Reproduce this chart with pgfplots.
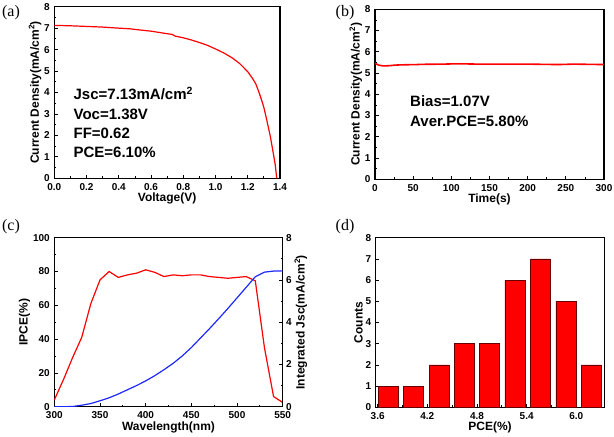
\documentclass[border=0pt]{standalone}
\usepackage{pgfplots}
\pgfplotsset{compat=1.18}
\usepackage{fontspec}
\setmainfont{Liberation Sans}
\newfontfamily\serifpanel{Liberation Serif}
\definecolor{myred}{RGB}{255,0,0}
\definecolor{myblue}{RGB}{30,40,255}
\pgfplotsset{
  myaxis/.style={
    scale only axis,
    anchor=south west,
    axis line style={line width=1.1pt},
    tick align=inside,
    tick pos=left,
    major tick length=3.5pt,
    minor tick length=2pt,
    every tick/.style={black, line width=0.8pt},
    /pgf/number format/assume math mode=true,
    xticklabel={\bfseries\fontsize{10}{11}\selectfont\pgfmathprintnumber{\tick}},
    yticklabel={\bfseries\fontsize{10}{11}\selectfont\pgfmathprintnumber{\tick}},
    xticklabel style={yshift=-1.5pt},
    yticklabel style={xshift=-1pt},
    label style={font=\bfseries\fontsize{12}{14}\selectfont},
    ylabel shift=-4pt,
    xlabel shift=-4pt,
  }
}
\begin{document}
\begin{tikzpicture}[x=1pt,y=1pt]
\path[use as bounding box] (0,0) rectangle (614,437);

% (a)
\begin{axis}[myaxis, at={(54.3pt,258.7pt)}, width=225.7pt, height=171.6pt,
  xmin=0, xmax=1.4, ymin=0, ymax=8,
  xtick={0,0.2,...,1.4}, minor x tick num=1,
  ytick={0,1,...,8}, minor y tick num=1,
  xticklabel style={/pgf/number format/.cd, fixed, fixed zerofill, precision=1},
  xlabel={Voltage(V)}, ylabel={Current Density(mA/cm\textsuperscript{2})}]
\addplot[myred, line width=1.2pt] coordinates {
(0,7.13)(0.05,7.12)(0.1,7.11)(0.2,7.08)(0.3,7.05)(0.4,7.0)(0.47,6.97)(0.5,6.94)(0.6,6.86)(0.65,6.8)(0.7,6.74)(0.73,6.71)(0.75,6.63)(0.8,6.55)(0.85,6.45)(0.9,6.33)(0.95,6.2)(1.0,6.03)(1.05,5.85)(1.1,5.63)(1.15,5.35)(1.2,4.97)(1.23,4.65)(1.25,4.4)(1.27,4.0)(1.29,3.55)(1.3,3.3)(1.32,2.65)(1.34,1.95)(1.36,1.1)(1.37,0.65)(1.38,0)};
\node[anchor=west, font=\bfseries\fontsize{15}{16}\selectfont] at (axis cs:0.098,3.97) {Jsc=7.13mA/cm\textsuperscript{2}};
\node[anchor=west, font=\bfseries\fontsize{15}{16}\selectfont] at (axis cs:0.098,2.98) {Voc=1.38V};
\node[anchor=west, font=\bfseries\fontsize{15}{16}\selectfont] at (axis cs:0.098,2.1) {FF=0.62};
\node[anchor=west, font=\bfseries\fontsize{15}{16}\selectfont] at (axis cs:0.098,1.22) {PCE=6.10\%};
\end{axis}

% (b)
\begin{axis}[myaxis, at={(375pt,257.7pt)}, width=229pt, height=170pt,
  xmin=0, xmax=300, ymin=0, ymax=8,
  xtick={0,50,...,300}, minor x tick num=1,
  ytick={0,1,...,8}, minor y tick num=1,
  xlabel={Time(s)}, ylabel={Current Density(mA/cm\textsuperscript{2})}]
\addplot[myred, line width=1.6pt] coordinates {
(0,5.46)(2,5.42)(5,5.37)(10,5.34)(15,5.34)(20,5.35)(25,5.37)(30,5.38)(40,5.39)(55,5.40)(60,5.41)(90,5.42)(100,5.43)(120,5.43)(135,5.42)(150,5.42)(180,5.42)(200,5.42)(220,5.41)(240,5.40)(260,5.42)(280,5.41)(300,5.40)};
\node[anchor=west, font=\bfseries\fontsize{15}{16}\selectfont] at (axis cs:41.5,3.69) {Bias=1.07V};
\node[anchor=west, font=\bfseries\fontsize{15}{16}\selectfont] at (axis cs:41.5,2.71) {Aver.PCE=5.80\%};
\end{axis}

% (c)
\begin{axis}[myaxis, at={(54.3pt,30.3pt)}, width=228.4pt, height=169pt,
  xmin=300, xmax=550, ymin=0, ymax=100,
  xtick={300,350,...,550}, minor x tick num=1,
  ytick={0,20,...,100}, minor y tick num=1,
  xlabel={Wavelength(nm)}, ylabel={IPCE(\%)}]
\addplot[myred, line width=1.2pt] coordinates {
(300,4)(310,16)(320,29)(330,41)(340,61)(350,75)(360,80)(370,76.5)(380,78)(390,79)(400,81)(410,79.5)(420,77)(430,78)(440,77.5)(450,78)(460,78)(470,77)(480,76.5)(490,76)(500,76.5)(510,77)(520,74.5)(530,35)(540,6)(550,2.5)};
\end{axis}
\begin{axis}[myaxis, at={(54.3pt,30.3pt)}, width=228.4pt, height=169pt,
  xmin=300, xmax=550, ymin=0, ymax=8,
  axis x line=none, axis y line*=right, ytick pos=right,
  yticklabel style={xshift=1pt},
  ytick={0,2,...,8}, minor y tick num=1,
  ylabel={Integrated Jsc(mA/cm\textsuperscript{2})}]
\addplot[myblue, line width=1.2pt] coordinates {
(300,0)(310,0)(320,0.01)(330,0.07)(340,0.15)(350,0.28)(360,0.42)(370,0.6)(380,0.8)(390,1.0)(400,1.22)(410,1.47)(420,1.75)(430,2.05)(440,2.4)(450,2.8)(460,3.25)(470,3.7)(480,4.17)(490,4.65)(500,5.15)(510,5.65)(520,6.15)(530,6.37)(540,6.42)(550,6.43)};
\end{axis}

% (d)
\begin{axis}[myaxis, at={(375.7pt,29.7pt)}, width=228.6pt, height=169.6pt,
  xmin=3.576, xmax=6.338, ymin=0, ymax=8,
  xtick={3.6,4.2,4.8,5.4,6.0}, minor x tick num=1,
  ytick={0,1,...,8},
  xticklabel style={/pgf/number format/.cd, fixed, fixed zerofill, precision=1},
  xlabel={PCE(\%)}, ylabel={Counts}]
\addplot[ybar, bar width=0.242, fill=myred, draw=black!60!red, line width=0.5pt] coordinates {
(3.729,1)(4.035,1)(4.341,2)(4.647,3)(4.953,3)(5.259,6)(5.565,7)(5.875,5)(6.181,2)};
\end{axis}

% panel labels
\node[font=\serifpanel\fontsize{16}{18}\selectfont] at (11,424) {(a)};
\node[font=\serifpanel\fontsize{16}{18}\selectfont] at (345,424) {(b)};
\node[font=\serifpanel\fontsize{16}{18}\selectfont] at (11,210) {(c)};
\node[font=\serifpanel\fontsize{16}{18}\selectfont] at (345,210) {(d)};
\end{tikzpicture}
\end{document}
